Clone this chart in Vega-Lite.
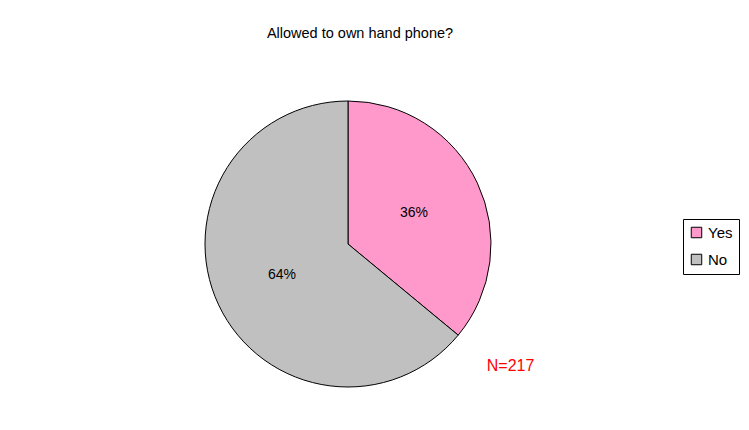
{
  "$schema": "https://vega.github.io/schema/vega-lite/v6.json",
  "autosize": "none",
  "width": 696,
  "height": 372,
  "padding": {"left": 0, "top": 58, "right": 53, "bottom": 0},
  "background": "#FFFFFF",
  "title": {
    "text": "Allowed to own hand phone?",
    "font": "Liberation Sans",
    "fontSize": 14.5,
    "fontWeight": "normal",
    "color": "#000000",
    "anchor": "middle",
    "baseline": "alphabetic",
    "offset": 6,
    "dx": 12
  },
  "config": {
    "view": {"stroke": null},
    "font": "Liberation Sans"
  },
  "layer": [
    {
      "data": {"values": [
        {"category": "Yes", "share": 0.36},
        {"category": "No", "share": 0.64}
      ]},
      "layer": [
        {
          "mark": {"type": "arc", "outerRadius": 143, "stroke": "#000000", "strokeWidth": 1},
          "encoding": {
            "theta": {"field": "share", "type": "quantitative", "stack": true},
            "order": {"field": "category", "type": "nominal", "sort": "descending"},
            "color": {
              "field": "category",
              "type": "nominal",
              "scale": {"domain": ["Yes", "No"], "range": ["#FF99CC", "#C0C0C0"]},
              "legend": {
                "title": null,
                "orient": "none",
                "legendX": 683,
                "legendY": 161,
                "strokeColor": "#000000",
                "fillColor": "#FFFFFF",
                "padding": 6,
                "symbolType": "square",
                "symbolSize": 110,
                "symbolStrokeColor": "#000000",
                "symbolStrokeWidth": 1,
                "symbolOpacity": 1,
                "labelFont": "Liberation Sans",
                "labelFontSize": 15,
                "labelColor": "#000000",
                "labelOffset": 4,
                "rowPadding": 11
              }
            }
          }
        },
        {
          "mark": {"type": "text", "radius": 73, "font": "Liberation Sans", "fontSize": 14, "color": "#000000"},
          "encoding": {
            "theta": {"field": "share", "type": "quantitative", "stack": true},
            "order": {"field": "category", "type": "nominal", "sort": "descending"},
            "detail": {"field": "category", "type": "nominal"},
            "text": {"field": "share", "type": "quantitative", "format": ".0%"}
          }
        }
      ]
    },
    {
      "data": {"values": [{"note": "N=217"}]},
      "mark": {"type": "text", "theta": 2.213, "radius": 203, "font": "Liberation Sans", "fontSize": 16, "color": "#FF0000"},
      "encoding": {
        "text": {"field": "note", "type": "nominal"}
      }
    }
  ]
}
